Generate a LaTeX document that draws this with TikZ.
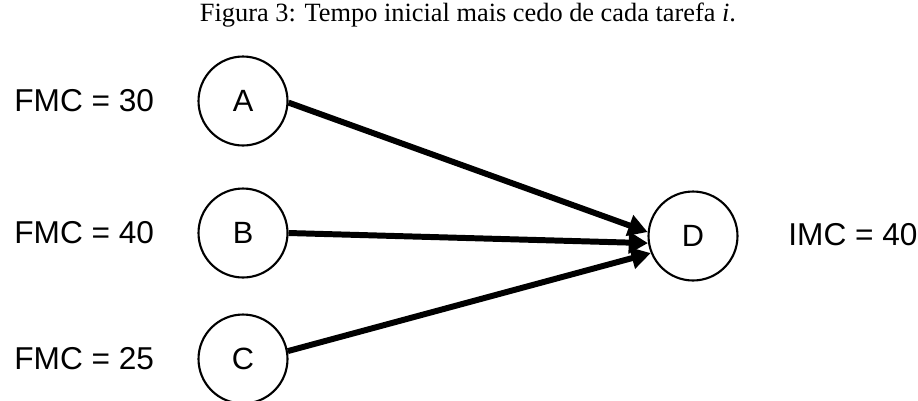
\documentclass[tikz,border=0pt]{standalone}
\usepackage{fontspec}
\setmainfont{Liberation Serif}
\newfontfamily\arialfont{Liberation Sans}
\usetikzlibrary{arrows.meta}

\tikzset{
  task/.style={circle, draw, line width=1.2pt, minimum size=1.78cm, inner sep=0pt,
               font=\arialfont\fontsize{17.5}{20}\selectfont},
  lbl/.style={inner sep=0pt, anchor=west, font=\arialfont\fontsize{18}{20}\selectfont},
  edge/.style={-{Triangle[length=11pt,width=12pt]}, line width=3.4pt}
}

\begin{document}
\begin{tikzpicture}[x=0.02cm,y=-0.02cm]
\useasboundingbox (0,0) rectangle (918,400);

%% caption
\node[font=\fontsize{15}{17}\selectfont, anchor=base] (cap) at (468,21)
  {Figura 3: Tempo inicial mais cedo de cada tarefa \textit{i}.};

%% tasks
\node[task] (A) at (243,101) {A};
\node[task] (B) at (243,233) {B};
\node[task] (C) at (243,359) {C};
\node[task] (D) at (693,236) {D};

%% task labels
\node[lbl] (fmcA) at (14,101) {FMC = 30};
\node[lbl] (fmcB) at (14,233) {FMC = 40};
\node[lbl] (fmcC) at (14,359) {FMC = 25};
\node[lbl] (imcD) at (788,235) {IMC = 40};

%%% edges
\draw[edge] (A.-2) -- (D.175);     %% AD
\draw[edge] (B.east) -- (D.189);   %% BD
\draw[edge] (C.10) -- (D.202);     %% CD
\end{tikzpicture}
\end{document}
